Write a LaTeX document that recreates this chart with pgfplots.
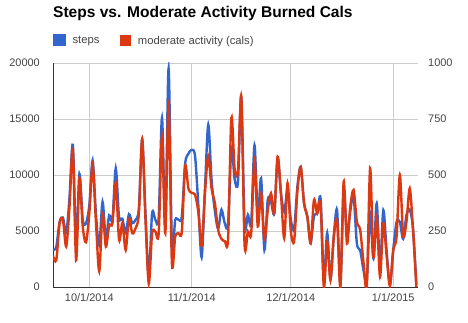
\documentclass[border=0pt]{standalone}
\usepackage{fontspec}
\setmainfont{Liberation Sans}
\usepackage{pgfplots}
\pgfplotsset{compat=1.18}
\usepackage{pgfplotstable}
\definecolor{gblue}{HTML}{3366CC}
\definecolor{gred}{HTML}{DC3912}
\definecolor{ggrid}{HTML}{CCCCCC}
\definecolor{gtext}{HTML}{444444}
\definecolor{gaxis}{HTML}{333333}

\pgfplotstableread{
day steps cals
-11 3300 140
-10 3600 120
-9 5800 285
-8 6200 300
-7 4800 180
-6 8000 360
-5 12700 615
-4 4000 120
-3 10100 485
-2 6000 270
-1 5700 200
0 7300 330
1 11300 545
2 6500 290
3 3700 70
4 7600 330
5 4300 180
6 6400 275
7 6000 285
8 10600 465
9 6200 210
10 6100 285
11 4800 165
12 6500 305
13 5700 240
14 6000 262
15 7000 330
16 13200 660
17 6500 300
18 1000 15
19 6580 240
20 6000 247
21 6200 240
22 15100 672
23 5500 240
24 19500 815
25 3600 105
26 6000 225
27 6000 240
28 6300 247
29 11000 540
30 11900 440
31 12250 420
32 11700 412
33 7300 335
34 2650 185
35 8700 420
36 14500 585
37 9600 440
38 6800 375
39 5200 255
40 6900 215
41 5700 205
42 5600 215
43 12400 754
44 9600 525
45 9400 520
46 17000 850
47 5540 188
48 6440 248
49 5700 240
50 12650 568
51 6300 270
52 9700 418
53 3300 210
54 7770 340
55 7600 418
56 6600 330
57 11500 582
58 8400 420
59 6730 218
60 8660 463
61 6000 250
62 5200 205
63 9000 430
64 10700 537
65 7500 373
66 6300 313
67 4000 194
68 6300 388
69 6600 328
70 7900 373
71 600 0
72 4840 201
73 740 30
74 4500 224
75 6860 298
76 300 0
77 8500 470
78 4620 194
79 6800 358
80 8060 433
81 3880 291
82 3280 254
83 1500 110
84 600 5
85 6600 530
86 2540 134
87 7460 313
88 1800 45
89 6860 284
90 3200 140
91 200 5
92 3300 164
93 5800 224
94 5800 500
95 4300 231
96 6400 290
97 6900 440
98 5200 254
99 200 0
}\data

\begin{document}
\begin{tikzpicture}
\useasboundingbox (-53bp,-36bp) rectangle (415bp,287bp);
\begin{axis}[
  at={(0,0)}, anchor=south west,
  scale only axis, width=365bp, height=224bp,
  xmin=-11, xmax=99.5, ymin=0, ymax=20000,
  xtick={0,31,61,92},
  xticklabels={10/1/2014,11/1/2014,12/1/2014,1/1/2015},
  ytick={0,5000,10000,15000,20000},
  scaled y ticks=false,
  yticklabel style={/pgf/number format/fixed, /pgf/number format/1000 sep={}},
  /pgf/number format/assume math mode=true,
  grid=major,
  major grid style={ggrid, line width=0.8bp},
  axis x line*=bottom, axis y line*=left,
  axis line style={gaxis, line width=0.9bp, -},
  major tick length=0pt,
  tick style={draw=none},
  ticklabel style={font=\fontsize{11}{13}\selectfont, text=gtext, inner sep=0pt},
  yticklabel style={anchor=east, xshift=-13bp},
  xticklabel style={anchor=north, yshift=-6bp},
  title={Steps vs. Moderate Activity Burned Cals},
  title style={at={(0,1)}, anchor=base west, yshift=40bp, inner sep=0pt, font=\fontsize{15.6}{18}\selectfont\bfseries, text=black},
  legend style={at={(0,1)}, anchor=south west, yshift=15bp, draw=none, fill=none, inner sep=0pt,
    font=\fontsize{11.3}{13}\selectfont, text=gtext,
    /tikz/every odd column/.append style={column sep=5bp},
    /tikz/every even column/.append style={column sep=19bp}},
  legend columns=2,
  legend cell align=left,
  legend image code/.code={\fill[#1] (0bp,-4bp) rectangle (10bp,6bp);},
  clip=true,
]
\addplot[color=gblue, line width=2.4bp, smooth] table[x=day, y=steps] {\data};
\addlegendentry{steps}
\addlegendimage{color=gred}
\addlegendentry{moderate activity (cals)}
\end{axis}
\begin{axis}[
  at={(0,0)}, anchor=south west,
  scale only axis, width=365bp, height=224bp,
  xmin=-11, xmax=99.5, ymin=0, ymax=1000,
  axis x line=none,
  axis y line*=right,
  axis line style={draw=none},
  ytick={0,250,500,750,1000},
  yticklabel style={/pgf/number format/fixed, /pgf/number format/1000 sep={}},
  /pgf/number format/assume math mode=true,
  major tick length=0pt,
  tick style={draw=none},
  ticklabel style={font=\fontsize{11}{13}\selectfont, text=gtext, inner sep=0pt},
  yticklabel style={anchor=west, xshift=10bp},
  clip=true,
]
\addplot[color=gred, line width=2.4bp, smooth] table[x=day, y=cals] {\data};
\end{axis}
\end{tikzpicture}
\end{document}
